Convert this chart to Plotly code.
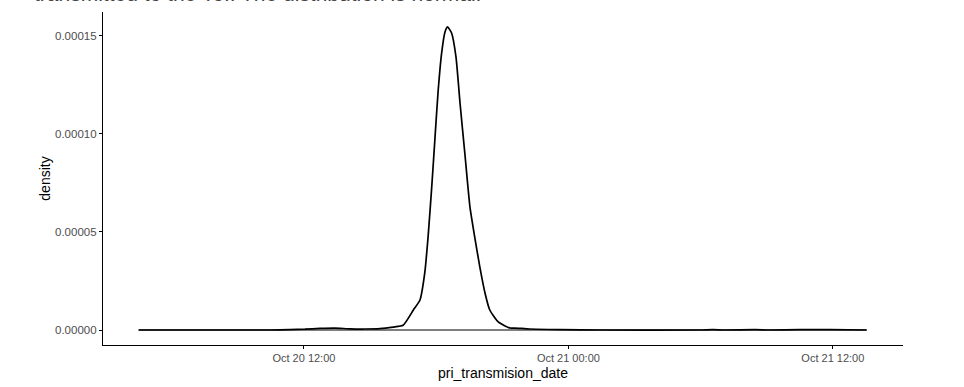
import plotly.graph_objects as go

# Density curve (time, density per second)
times = [
    "2020-10-20 04:30", "2020-10-20 10:28", "2020-10-20 11:22", "2020-10-20 12:03",
    "2020-10-20 12:44", "2020-10-20 13:24", "2020-10-20 14:05", "2020-10-20 14:46",
    "2020-10-20 15:27", "2020-10-20 16:03", "2020-10-20 16:30", "2020-10-20 16:58",
    "2020-10-20 17:16", "2020-10-20 17:29", "2020-10-20 17:38", "2020-10-20 17:48",
    "2020-10-20 17:57", "2020-10-20 18:05", "2020-10-20 18:15", "2020-10-20 18:24",
    "2020-10-20 18:31", "2020-10-20 18:42", "2020-10-20 18:54", "2020-10-20 19:05",
    "2020-10-20 19:18", "2020-10-20 19:32", "2020-10-20 19:45", "2020-10-20 19:59",
    "2020-10-20 20:13", "2020-10-20 20:26", "2020-10-20 20:49", "2020-10-20 21:21",
    "2020-10-20 21:34", "2020-10-20 22:15", "2020-10-20 23:37", "2020-10-21 01:26",
    "2020-10-21 05:58", "2020-10-21 06:33", "2020-10-21 07:06", "2020-10-21 08:28",
    "2020-10-21 09:08", "2020-10-21 10:30", "2020-10-21 11:52", "2020-10-21 13:32",
]
density = [
    0.0, 0.0, 0.2e-6, 0.4e-6,
    0.8e-6, 1.0e-6, 0.6e-6, 0.5e-6,
    0.7e-6, 1.5e-6, 2.4e-6, 1.02e-5,
    1.53e-5, 2.91e-5, 4.74e-5, 7.30e-5,
    9.85e-5, 1.209e-4, 1.413e-4, 1.520e-4,
    1.546e-4, 1.515e-4, 1.393e-4, 1.158e-4,
    9.03e-5, 6.28e-5, 4.74e-5, 3.21e-5,
    1.89e-5, 1.02e-5, 4.1e-6, 1.0e-6,
    1.0e-6, 0.5e-6, 0.2e-6, 0.0,
    0.0, 0.2e-6, 0.0, 0.2e-6,
    0.0, 0.2e-6, 0.2e-6, 0.0,
]

x_tick_vals = ["2020-10-20 12:00", "2020-10-21 00:00", "2020-10-21 12:00"]
x_tick_text = ["Oct 20 12:00", "Oct 21 00:00", "Oct 21 12:00"]
y_tick_vals = [0.0, 0.00005, 0.00010, 0.00015]
y_tick_text = ["0.00000", "0.00005", "0.00010", "0.00015"]

title_text = "transmitted to the ToI: The distribution is normal."

fig = go.Figure()
# baseline of the density polygon
fig.add_trace(go.Scatter(
    x=[times[0], times[-1]], y=[0, 0], mode="lines",
    line=dict(color="#555555", width=1.6), hoverinfo="skip", showlegend=False))
fig.add_trace(go.Scatter(
    x=times, y=density, mode="lines",
    line=dict(color="black", width=1.7, shape="spline", smoothing=0.5),
    showlegend=False))

fig.update_layout(
    width=964, height=387,
    margin=dict(l=103, r=61, t=12, b=42),
    paper_bgcolor="white", plot_bgcolor="white",
    font=dict(family="Liberation Sans, Arial, sans-serif"),
    annotations=[dict(
        text=title_text, xref="paper", yref="paper",
        x=-0.089, y=1.015, xanchor="left", yanchor="bottom",
        showarrow=False, font=dict(size=21, color="#444444"))],
)
fig.update_xaxes(
    range=["2020-10-20 02:53", "2020-10-21 15:11"],
    tickvals=x_tick_vals, ticktext=x_tick_text,
    showgrid=False, zeroline=False, automargin=False,
    showline=True, linecolor="black", linewidth=1.2,
    ticks="outside", ticklen=3, tickcolor="black", tickwidth=1,
    tickfont=dict(size=11, color="#4d4d4d"),
    title=dict(text="pri_transmision_date", font=dict(size=14, color="black"), standoff=4),
)
fig.update_yaxes(
    range=[-7.65e-6, 1.622e-4],
    tickvals=y_tick_vals, ticktext=y_tick_text,
    showgrid=False, zeroline=False, automargin=False,
    showline=True, linecolor="black", linewidth=1.2,
    ticks="outside", ticklen=3, tickcolor="black", tickwidth=1,
    tickfont=dict(size=11.5, color="#4d4d4d"),
    title=dict(text="density", font=dict(size=14, color="black"), standoff=1),
)

fig.write_html("out.html")
